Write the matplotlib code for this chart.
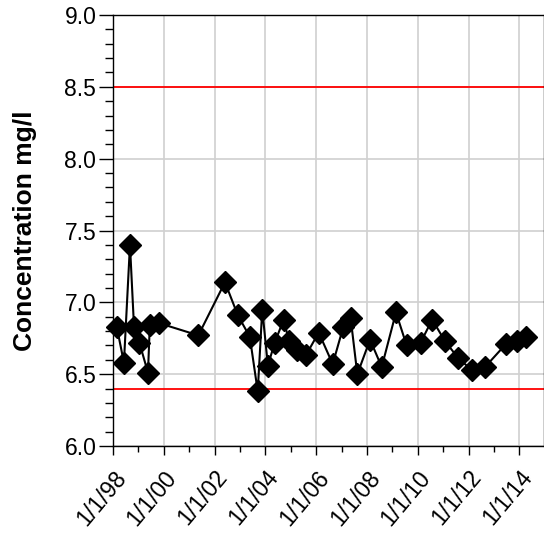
import pandas as pd
import matplotlib
matplotlib.use('Agg')
import matplotlib.pyplot as plt
import matplotlib.dates as mdates
from matplotlib.ticker import MultipleLocator

plt.rcParams.update({'font.family': ['Liberation Sans', 'DejaVu Sans']})

# sample dates and measured concentration (mg/l)
dates = ['1998-02-24', '1998-06-07', '1998-09-02', '1998-10-30', '1999-01-15',
         '1999-05-19', '1999-06-14', '1999-10-27', '2001-05-12', '2002-05-30',
         '2002-12-01', '2003-05-22', '2003-09-13', '2003-11-17', '2004-02-06',
         '2004-05-15', '2004-09-20', '2004-12-05', '2005-03-25', '2005-08-04',
         '2006-02-06', '2006-08-26', '2007-01-26', '2007-05-11', '2007-08-15',
         '2008-02-14', '2008-07-31', '2009-02-21', '2009-07-24', '2010-02-10',
         '2010-07-27', '2011-01-26', '2011-08-08', '2012-02-14', '2012-08-25',
         '2013-06-21', '2013-11-21', '2014-04-12']
conc = [6.83, 6.58, 7.40, 6.83, 6.72,
        6.51, 6.84, 6.855, 6.77, 7.14,
        6.91, 6.76, 6.38, 6.95, 6.56,
        6.72, 6.88, 6.73, 6.67, 6.63,
        6.79, 6.57, 6.83, 6.89, 6.50,
        6.74, 6.55, 6.93, 6.70, 6.72,
        6.88, 6.73, 6.61, 6.53, 6.55,
        6.71, 6.73, 6.76]
upper_limit = 8.5
lower_limit = 6.4

data = pd.DataFrame({'Date': pd.to_datetime(dates), 'Conc': conc})

fig = plt.figure(figsize=(5.44, 5.34), dpi=100)
ax = fig.add_axes([113 / 544, 1 - 446 / 534, 430.5 / 544, 431 / 534])

ax.grid(True, which='major', color='#d0d0d0', linewidth=1.2)
ax.axhline(upper_limit, color='#ff0000', linewidth=1.3, zorder=2)
ax.axhline(lower_limit, color='#ff0000', linewidth=1.3, zorder=2)
ax.plot(data.Date, data.Conc, color='black', linewidth=1.5, marker='D',
        markersize=11, markerfacecolor='black', markeredgecolor='black',
        zorder=3, clip_on=False)

ax.set_ylim(6.0, 9.0)
ax.set_xlim(pd.Timestamp('1998-01-01'), pd.Timestamp('2014-12-13'))
ax.yaxis.set_major_locator(MultipleLocator(0.5))
ax.yaxis.set_minor_locator(MultipleLocator(0.1))
ax.yaxis.set_major_formatter(matplotlib.ticker.FormatStrFormatter('%.1f'))
ax.xaxis.set_major_locator(mdates.YearLocator(2))
ax.xaxis.set_minor_locator(mdates.YearLocator(1))
ax.xaxis.set_major_formatter(
    matplotlib.ticker.FuncFormatter(
        lambda v, p: '1/1/%s' % mdates.num2date(v).strftime('%y')))

ax.tick_params(axis='y', which='major', length=10, width=1, labelsize=16.5, pad=2)
ax.tick_params(axis='y', which='minor', length=6, width=1)
ax.tick_params(axis='x', which='major', length=6.5, width=1, labelsize=16.5, pad=8)
ax.tick_params(axis='x', which='minor', length=4.3, width=1)
for lbl in ax.get_xticklabels():
    lbl.set_rotation(50)
    lbl.set_ha('right')
    lbl.set_rotation_mode('anchor')

for s in ax.spines.values():
    s.set_linewidth(1)

ax.set_ylabel('Concentration mg/l', fontsize=19, fontweight='bold')
ax.yaxis.set_label_coords(-0.177, 0.5)

plt.savefig('out.png', dpi=100)
